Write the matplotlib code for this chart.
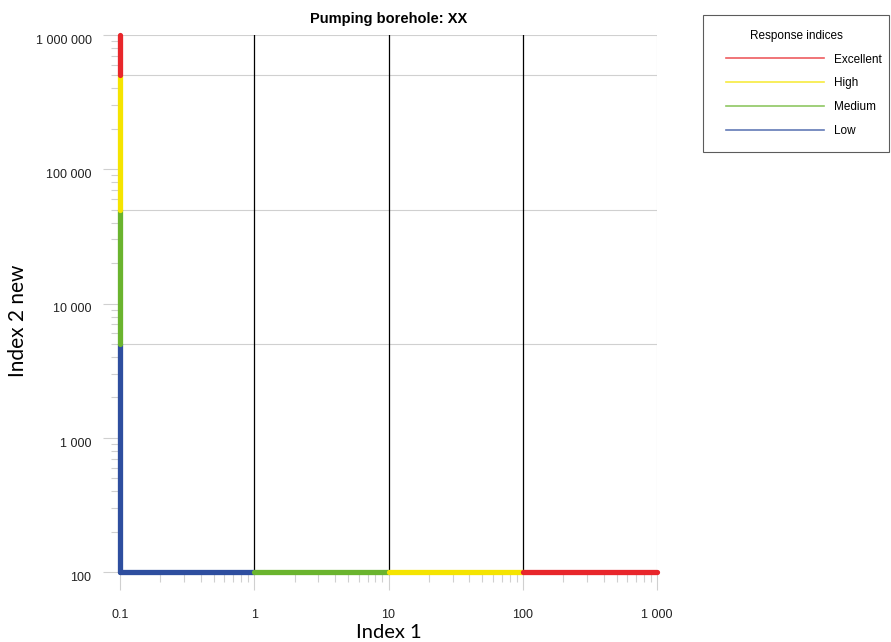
import numpy as np
import matplotlib.pyplot as plt
import matplotlib.transforms as mtransforms
from matplotlib.ticker import FuncFormatter, LogLocator, NullFormatter
from matplotlib.lines import Line2D
from matplotlib.legend_handler import HandlerLine2D

# class boundaries for both indices
classes = ["Low", "Medium", "High", "Excellent"]
index1_bounds = [0.1, 1, 10, 100, 1000]
index2_bounds = [100, 5000, 50000, 500000, 1000000]
class_colors = ["#2e4e9f", "#6ab42e", "#f5e400", "#e8262b"]

grid_grey = "#d0d0d0"


def spaced(v, pos):
    if v < 1:
        return f"{v:g}"
    return f"{int(round(v)):,}".replace(",", " ")


class IndentedLine(HandlerLine2D):
    # legend line that starts a little right of the handle box
    def get_xdata(self, legend, xdescent, ydescent, width, height, fontsize):
        x0 = -xdescent + 0.7 * fontsize
        x1 = -xdescent + width
        return [x0, x1], [0.5 * (x0 + x1)]


fig = plt.figure(figsize=(8.91, 6.42), dpi=100)
ax = fig.add_axes([120 / 891, 1 - 572 / 642, 537 / 891, 537 / 642])
ax.set_xscale("log")
ax.set_yscale("log")
ax.set_xlim(index1_bounds[0], index1_bounds[-1])
ax.set_ylim(index2_bounds[0], index2_bounds[-1])

for s in ax.spines.values():
    s.set_visible(False)

# reference lines
for yb in index2_bounds[1:]:
    ax.axhline(yb, color=grid_grey, lw=0.8, zorder=1)
ax.axvline(index1_bounds[-1], color=grid_grey, lw=0.8, zorder=1)
for xb in index1_bounds[1:-1]:
    ax.axvline(xb, color="black", lw=0.9, zorder=2)

# coloured class segments along both axes
x0 = index1_bounds[0]
y0 = index2_bounds[0]
for i in range(len(classes)):
    ax.plot([x0, x0], [index2_bounds[i], index2_bounds[i + 1]], color=class_colors[i],
            lw=3.8, solid_capstyle="round", zorder=3 + i, clip_on=False)
    ax.plot([index1_bounds[i], index1_bounds[i + 1]], [y0, y0], color=class_colors[i],
            lw=3.8, solid_capstyle="round", zorder=3 + i, clip_on=False)

# ticks
ax.xaxis.set_major_locator(LogLocator(base=10))
ax.yaxis.set_major_locator(LogLocator(base=10))
ax.xaxis.set_minor_locator(LogLocator(base=10, subs=np.arange(2, 10)))
ax.yaxis.set_minor_locator(LogLocator(base=10, subs=np.arange(2, 10)))
ax.xaxis.set_major_formatter(FuncFormatter(spaced))
ax.yaxis.set_major_formatter(FuncFormatter(spaced))
ax.xaxis.set_minor_formatter(NullFormatter())
ax.yaxis.set_minor_formatter(NullFormatter())
ax.tick_params(axis="y", which="major", length=12.5, width=0.8, color=grid_grey,
               pad=8, labelsize=9, labelcolor="#222222")
ax.tick_params(axis="y", which="minor", length=6.5, width=0.8, color=grid_grey)
ax.tick_params(axis="x", which="major", length=13, width=0.8, color=grid_grey,
               pad=13.5, labelsize=9, labelcolor="#222222")
ax.tick_params(axis="x", which="minor", length=7, width=0.8, color=grid_grey)

down = mtransforms.ScaledTranslation(0, -4.5 / 100, fig.dpi_scale_trans)
for lab in ax.get_xticklabels() + ax.get_yticklabels():
    lab.set_fontfamily("Liberation Sans")
for lab in ax.get_yticklabels():
    lab.set_transform(lab.get_transform() + down)

ax.set_xlabel("Index 1", fontsize=14.5, family="Lato")
ax.set_ylabel("Index 2 new", fontsize=15, family="Lato")
ax.xaxis.set_label_coords(0.5, -0.097)
ax.yaxis.set_label_coords(-0.171, 0.467)
ax.set_title("Pumping borehole: XX", fontsize=10.5, fontweight="bold",
             family="Liberation Sans", pad=9)

handles = [Line2D([], [], color=c, lw=1.2, alpha=0.75) for c in class_colors][::-1]
leg = fig.legend(handles, classes[::-1], title="Response indices",
                 loc="upper left",
                 bbox_to_anchor=(703 / 891, 1 - 151 / 642, 186 / 891, 136 / 642),
                 mode="expand",
                 handler_map={Line2D: IndentedLine()},
                 prop={"family": "Liberation Sans", "size": 8.5},
                 title_fontproperties={"family": "Liberation Sans", "size": 8.5},
                 frameon=True, fancybox=False, edgecolor="#333333",
                 handlelength=9.0, handletextpad=0.85, labelspacing=1.0,
                 borderpad=1.25, borderaxespad=0)
leg.get_frame().set_linewidth(0.8)

fig.savefig("out.png", dpi=100)
